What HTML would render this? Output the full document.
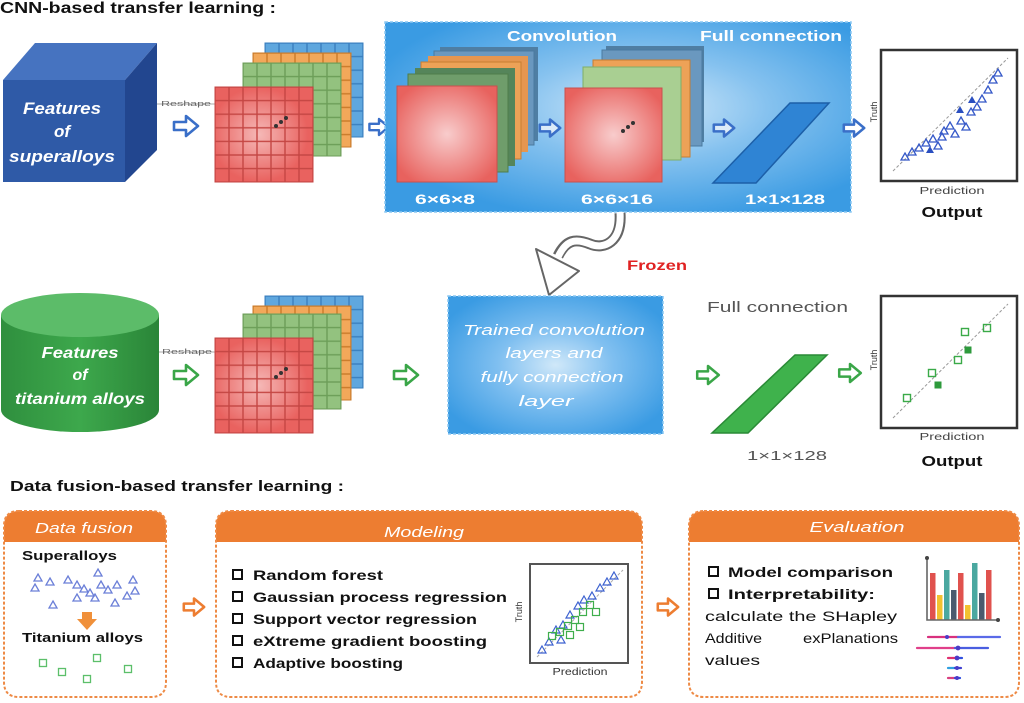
<!DOCTYPE html>
<html><head><meta charset="utf-8">
<style>
html,body{margin:0;padding:0;background:#fff;}
svg{display:block;}
text{font-family:"Liberation Sans",Arial,sans-serif;}
</style></head>
<body>
<svg width="1024" height="703" viewBox="0 0 1024 703" xmlns="http://www.w3.org/2000/svg">
<defs>
  <radialGradient id="boxg" cx="0.55" cy="0.45" r="0.6">
    <stop offset="0" stop-color="#d6ebfa"/>
    <stop offset="0.45" stop-color="#86c2ef"/>
    <stop offset="1" stop-color="#3a9be3"/>
  </radialGradient>
  <radialGradient id="boxg2" cx="0.5" cy="0.5" r="0.6">
    <stop offset="0" stop-color="#d0e8f9"/>
    <stop offset="0.45" stop-color="#7fbff0"/>
    <stop offset="1" stop-color="#3a9be3"/>
  </radialGradient>
  <radialGradient id="redg" cx="0.5" cy="0.5" r="0.6">
    <stop offset="0" stop-color="#f8cccc"/>
    <stop offset="1" stop-color="#e8625e"/>
  </radialGradient>
  <radialGradient id="glow" cx="0.45" cy="0.5" r="0.5">
    <stop offset="0" stop-color="#fff" stop-opacity="0.55"/>
    <stop offset="1" stop-color="#fff" stop-opacity="0"/>
  </radialGradient>
  <linearGradient id="cylg" x1="0" x2="1" y1="0" y2="0">
    <stop offset="0" stop-color="#2f8f3e"/>
    <stop offset="0.5" stop-color="#3da84c"/>
    <stop offset="1" stop-color="#2a8538"/>
  </linearGradient>
  <pattern id="pr" width="14" height="13.6" patternUnits="userSpaceOnUse"><rect width="14" height="13.6" fill="none" stroke="#c44643" stroke-width="1.4"/></pattern>
  <pattern id="pg" width="14" height="13.6" patternUnits="userSpaceOnUse"><rect width="14" height="13.6" fill="none" stroke="#6c9e58" stroke-width="1.4"/></pattern>
  <pattern id="po" width="14" height="13.6" patternUnits="userSpaceOnUse"><rect width="14" height="13.6" fill="none" stroke="#c97a2a" stroke-width="1.4"/></pattern>
  <pattern id="pb" width="14" height="13.6" patternUnits="userSpaceOnUse"><rect width="14" height="13.6" fill="none" stroke="#3a7fbf" stroke-width="1.4"/></pattern>
  <path id="ha" d="M-12,-4 H0 V-10 L12,0 L0,10 V4 H-12 Z" stroke-linejoin="round"/>
  <path id="tri" d="M0,-4 L4,3 L-4,3 Z"/>
  <rect id="sq" x="-3.5" y="-3.5" width="7" height="7"/>
</defs>

<!-- ===== Titles ===== -->
<text x="0" y="13" font-size="16" font-weight="bold" fill="#111" textLength="276" lengthAdjust="spacingAndGlyphs">CNN-based transfer learning :</text>
<text x="10" y="491" font-size="15" font-weight="bold" fill="#111" textLength="334" lengthAdjust="spacingAndGlyphs">Data fusion-based transfer learning :</text>

<!-- ===== Row 1: cube ===== -->
<polygon points="3,80 35,43 157,43 125,80" fill="#4673c0"/>
<polygon points="125,80 157,43 157,150 125,182" fill="#22468f"/>
<rect x="3" y="80" width="122" height="102" fill="#2f5aa7"/>
<g font-style="italic" font-weight="bold" fill="#fff" font-size="17" text-anchor="middle">
  <text x="62" y="114" textLength="78" lengthAdjust="spacingAndGlyphs">Features</text>
  <text x="62" y="137">of</text>
  <text x="62" y="162" textLength="106" lengthAdjust="spacingAndGlyphs">superalloys</text>
</g>
<line x1="157" y1="104" x2="215" y2="104" stroke="#aaa" stroke-width="1"/>
<text x="161" y="106" font-size="7" fill="#666" textLength="50" lengthAdjust="spacingAndGlyphs">Reshape</text>
<use href="#ha" transform="translate(186,126)" fill="#fff" stroke="#3a6fc8" stroke-width="2.6"/>

<!-- grid stack 1 -->
<g transform="translate(265,43)"><rect width="98" height="94" fill="#5fa7de"/><rect width="98" height="94" fill="url(#pb)" stroke="#3a7fbf"/></g>
<g transform="translate(253,53)"><rect width="98" height="94" fill="#f2a85a"/><rect width="98" height="94" fill="url(#po)" stroke="#c97a2a"/></g>
<g transform="translate(243,63)"><rect width="98" height="93" fill="#93c27f"/><rect width="98" height="93" fill="url(#pg)" stroke="#6c9e58"/></g>
<g transform="translate(215,87)"><rect width="98" height="95" fill="#e9625f"/><rect width="98" height="95" fill="url(#glow)"/><rect width="98" height="95" fill="url(#pr)" stroke="#c44643"/></g>
<circle cx="276" cy="126" r="2" fill="#333"/><circle cx="281" cy="122" r="2" fill="#333"/><circle cx="286" cy="118" r="2" fill="#333"/>

<use href="#ha" transform="translate(379,127) scale(0.8)" fill="#fff" stroke="#3a6fc8" stroke-width="3"/>

<!-- big blue box -->
<rect x="385" y="22" width="466" height="190" fill="url(#boxg)" stroke="#8cc8f2" stroke-width="1.5" stroke-dasharray="3,2"/>
<text x="507" y="41" font-size="15" font-weight="bold" fill="#fff" textLength="110" lengthAdjust="spacingAndGlyphs">Convolution</text>
<text x="700" y="41" font-size="15" font-weight="bold" fill="#fff" textLength="142" lengthAdjust="spacingAndGlyphs">Full connection</text>

<!-- conv stack 1 -->
<rect x="440" y="47" width="98" height="94" fill="#4f7ea3"/>
<rect x="434" y="51" width="100" height="94" fill="#6a98bf" stroke="#4a7aa0"/>
<rect x="428" y="56" width="100" height="96" fill="#e59650"/>
<rect x="421" y="62" width="100" height="97" fill="#eda257" stroke="#c67d32"/>
<rect x="415" y="68" width="100" height="98" fill="#55855a"/>
<rect x="408" y="74" width="100" height="98" fill="#6f9d6b" stroke="#4f7d4b"/>
<rect x="397" y="86" width="100" height="96" fill="url(#redg)" stroke="#c9504d"/>
<!-- conv stack 2 -->
<rect x="606" y="46" width="98" height="96" fill="#4f7ea3"/>
<rect x="602" y="50" width="100" height="96" fill="#6a98bf" stroke="#4a7aa0"/>
<rect x="593" y="60" width="97" height="97" fill="#eda257" stroke="#c67d32"/>
<rect x="583" y="67" width="98" height="93" fill="#a9cf92" stroke="#7fae68"/>
<rect x="565" y="88" width="97" height="94" fill="url(#redg)" stroke="#c9504d"/>
<circle cx="623" cy="131" r="2" fill="#333"/><circle cx="628" cy="127" r="2" fill="#333"/><circle cx="633" cy="123" r="2" fill="#333"/>

<use href="#ha" transform="translate(550,128) scale(0.85)" fill="#dcebf8" stroke="#3a6fc8" stroke-width="3"/>
<use href="#ha" transform="translate(724,128) scale(0.85)" fill="#dcebf8" stroke="#3a6fc8" stroke-width="3"/>

<!-- blue parallelogram -->
<polygon points="713,183 756,183 829,103 790,103" fill="#2f84d4" stroke="#1c5fa8" stroke-width="1.5"/>

<g font-size="14" font-weight="bold" fill="#fff">
  <text x="415" y="204" textLength="60" lengthAdjust="spacingAndGlyphs">6×6×8</text>
  <text x="581" y="204" textLength="72" lengthAdjust="spacingAndGlyphs">6×6×16</text>
  <text x="745" y="204" textLength="80" lengthAdjust="spacingAndGlyphs">1×1×128</text>
</g>

<use href="#ha" transform="translate(854,128) scale(0.85)" fill="#fff" stroke="#3a6fc8" stroke-width="3"/>

<!-- output plot 1 -->
<rect x="881" y="50" width="136" height="131" fill="#fff" stroke="#333" stroke-width="2.5"/>
<line x1="893" y1="171" x2="1008" y2="58" stroke="#999" stroke-width="1" stroke-dasharray="3,2"/>
<g fill="none" stroke="#3558c8" stroke-width="1.3">
  <use href="#tri" x="905" y="157"/><use href="#tri" x="912" y="152"/><use href="#tri" x="919" y="148"/>
  <use href="#tri" x="926" y="143"/><use href="#tri" x="933" y="139"/><use href="#tri" x="938" y="146"/>
  <use href="#tri" x="944" y="131"/><use href="#tri" x="950" y="126"/><use href="#tri" x="955" y="134"/>
  <use href="#tri" x="961" y="121"/><use href="#tri" x="966" y="127"/><use href="#tri" x="971" y="112"/>
  <use href="#tri" x="977" y="107"/><use href="#tri" x="982" y="99"/><use href="#tri" x="988" y="90"/>
  <use href="#tri" x="993" y="80"/><use href="#tri" x="998" y="73"/><use href="#tri" x="942" y="137"/>
</g>
<g fill="#2a4fc0"><use href="#tri" x="972" y="100"/><use href="#tri" x="960" y="110"/><use href="#tri" x="930" y="150"/></g>
<text transform="translate(877,112) rotate(-90)" font-size="9" fill="#333" text-anchor="middle">Truth</text>
<text x="952" y="194" font-size="10" fill="#444" text-anchor="middle" textLength="65" lengthAdjust="spacingAndGlyphs">Prediction</text>
<text x="952" y="217" font-size="15" font-weight="bold" fill="#111" text-anchor="middle" textLength="61" lengthAdjust="spacingAndGlyphs">Output</text>

<!-- Frozen arrow -->
<path d="M620,213 C622,242 604,250 590,244 C575,238 566,240 558,256" fill="none" stroke="#666" stroke-width="11" stroke-linecap="butt"/>
<path d="M620,212 C622,242 604,250 590,244 C575,238 566,240 558,257" fill="none" stroke="#fff" stroke-width="7"/>
<polygon points="536,249 579,271 549,295" fill="#fff" stroke="#666" stroke-width="2" stroke-linejoin="round"/>
<text x="627" y="270" font-size="14" font-weight="bold" fill="#e02222" textLength="60" lengthAdjust="spacingAndGlyphs">Frozen</text>

<!-- ===== Row 2 ===== -->
<path d="M1,315 V410 A79,22 0 0 0 159,410 V315 Z" fill="url(#cylg)"/>
<ellipse cx="80" cy="315" rx="79" ry="22" fill="#5cbc69"/>
<g font-style="italic" font-weight="bold" fill="#fff" font-size="16" text-anchor="middle">
  <text x="80" y="358" textLength="77" lengthAdjust="spacingAndGlyphs">Features</text>
  <text x="80" y="380">of</text>
  <text x="80" y="404" textLength="130" lengthAdjust="spacingAndGlyphs">titanium alloys</text>
</g>
<line x1="159" y1="352" x2="215" y2="352" stroke="#aaa" stroke-width="1"/>
<text x="162" y="354" font-size="7" fill="#666" textLength="50" lengthAdjust="spacingAndGlyphs">Reshape</text>
<use href="#ha" transform="translate(186,375)" fill="#fff" stroke="#3aa648" stroke-width="2.6"/>

<!-- grid stack 2 -->
<g transform="translate(265,296)"><rect width="98" height="92" fill="#5fa7de"/><rect width="98" height="92" fill="url(#pb)" stroke="#3a7fbf"/></g>
<g transform="translate(253,306)"><rect width="98" height="94" fill="#f2a85a"/><rect width="98" height="94" fill="url(#po)" stroke="#c97a2a"/></g>
<g transform="translate(243,314)"><rect width="98" height="95" fill="#93c27f"/><rect width="98" height="95" fill="url(#pg)" stroke="#6c9e58"/></g>
<g transform="translate(215,338)"><rect width="98" height="95" fill="#e9625f"/><rect width="98" height="95" fill="url(#glow)"/><rect width="98" height="95" fill="url(#pr)" stroke="#c44643"/></g>
<circle cx="276" cy="377" r="2" fill="#333"/><circle cx="281" cy="373" r="2" fill="#333"/><circle cx="286" cy="369" r="2" fill="#333"/>

<use href="#ha" transform="translate(406,375)" fill="#fff" stroke="#3aa648" stroke-width="2.6"/>

<!-- trained box -->
<rect x="448" y="296" width="215" height="138" fill="url(#boxg2)" stroke="#8cc8f2" stroke-width="1.5" stroke-dasharray="3,2"/>
<g font-style="italic" fill="#fff" font-size="15" text-anchor="middle">
  <text x="554" y="335" textLength="182" lengthAdjust="spacingAndGlyphs">Trained convolution</text>
  <text x="554" y="358" textLength="97" lengthAdjust="spacingAndGlyphs">layers and</text>
  <text x="552" y="382" textLength="143" lengthAdjust="spacingAndGlyphs">fully connection</text>
  <text x="546" y="406" textLength="55" lengthAdjust="spacingAndGlyphs">layer</text>
</g>

<text x="707" y="312" font-size="15" fill="#555" textLength="141" lengthAdjust="spacingAndGlyphs">Full connection</text>
<use href="#ha" transform="translate(708,375) scale(0.9)" fill="#fff" stroke="#3aa648" stroke-width="2.8"/>
<polygon points="712,433 748,433 827,355 795,355" fill="#3fb24c" stroke="#2a8a36" stroke-width="1.5"/>
<text x="747" y="460" font-size="13" fill="#555" textLength="80" lengthAdjust="spacingAndGlyphs">1×1×128</text>
<use href="#ha" transform="translate(850,373) scale(0.9)" fill="#fff" stroke="#3aa648" stroke-width="2.8"/>

<!-- output plot 2 -->
<rect x="881" y="296" width="136" height="132" fill="#fff" stroke="#333" stroke-width="2.5"/>
<line x1="893" y1="418" x2="1008" y2="304" stroke="#999" stroke-width="1" stroke-dasharray="3,2"/>
<g fill="none" stroke="#3aaa48" stroke-width="1.4">
  <use href="#sq" x="965" y="332"/><use href="#sq" x="987" y="328"/><use href="#sq" x="958" y="360"/>
  <use href="#sq" x="932" y="373"/><use href="#sq" x="907" y="398"/>
</g>
<g fill="#2e9a3c"><use href="#sq" x="968" y="350"/><use href="#sq" x="938" y="385"/></g>
<text transform="translate(877,360) rotate(-90)" font-size="9" fill="#333" text-anchor="middle">Truth</text>
<text x="952" y="440" font-size="10" fill="#444" text-anchor="middle" textLength="65" lengthAdjust="spacingAndGlyphs">Prediction</text>
<text x="952" y="466" font-size="15" font-weight="bold" fill="#111" text-anchor="middle" textLength="61" lengthAdjust="spacingAndGlyphs">Output</text>

<!-- ===== Bottom section ===== -->
<!-- Box 1 -->
<path d="M4,526 Q4,511 19,511 H151 Q166,511 166,526 V542 H4 Z" fill="#ed7d31"/>
<path d="M19,511 H151 Q166,511 166,526 V682 Q166,697 151,697 H19 Q4,697 4,682 V526 Q4,511 19,511 Z" fill="none" stroke="#ee8a45" stroke-width="2" stroke-dasharray="3,2"/>
<text x="84" y="533" font-size="15" font-style="italic" fill="#fff" text-anchor="middle" textLength="98" lengthAdjust="spacingAndGlyphs">Data fusion</text>
<text x="22" y="560" font-size="13" font-weight="bold" fill="#111" textLength="95" lengthAdjust="spacingAndGlyphs">Superalloys</text>
<g fill="none" stroke="#6b7fd8" stroke-width="1.3">
  <use href="#tri" x="38" y="578"/><use href="#tri" x="50" y="582"/><use href="#tri" x="35" y="588"/>
  <use href="#tri" x="53" y="605"/><use href="#tri" x="68" y="580"/><use href="#tri" x="77" y="585"/>
  <use href="#tri" x="84" y="589"/><use href="#tri" x="77" y="598"/><use href="#tri" x="90" y="593"/>
  <use href="#tri" x="98" y="573"/><use href="#tri" x="101" y="585"/><use href="#tri" x="108" y="590"/>
  <use href="#tri" x="95" y="598"/><use href="#tri" x="117" y="585"/><use href="#tri" x="115" y="603"/>
  <use href="#tri" x="133" y="580"/><use href="#tri" x="135" y="591"/><use href="#tri" x="127" y="596"/>
</g>
<polygon points="82,612 92,612 92,619 97,619 87,630 77,619 82,619" fill="#f0903a"/>
<text x="22" y="642" font-size="13" font-weight="bold" fill="#111" textLength="121" lengthAdjust="spacingAndGlyphs">Titanium alloys</text>
<g fill="none" stroke="#5cbf6a" stroke-width="1.3">
  <use href="#sq" x="43" y="663"/><use href="#sq" x="62" y="672"/><use href="#sq" x="97" y="658"/>
  <use href="#sq" x="87" y="679"/><use href="#sq" x="128" y="669"/>
</g>

<use href="#ha" transform="translate(194,607) scale(0.85)" fill="#fff" stroke="#ed7d31" stroke-width="3"/>

<!-- Box 2 -->
<path d="M216,526 Q216,511 231,511 H627 Q642,511 642,526 V542 H216 Z" fill="#ed7d31"/>
<path d="M231,511 H627 Q642,511 642,526 V682 Q642,697 627,697 H231 Q216,697 216,682 V526 Q216,511 231,511 Z" fill="none" stroke="#ee8a45" stroke-width="2" stroke-dasharray="3,2"/>
<text x="424" y="537" font-size="15" font-style="italic" fill="#fff" text-anchor="middle" textLength="80" lengthAdjust="spacingAndGlyphs">Modeling</text>
<g fill="none" stroke="#111" stroke-width="2">
  <rect x="233" y="570" width="9" height="9"/><rect x="233" y="592" width="9" height="9"/>
  <rect x="233" y="614" width="9" height="9"/><rect x="233" y="636" width="9" height="9"/>
  <rect x="233" y="658" width="9" height="9"/>
</g>
<g font-size="14" font-weight="bold" fill="#111">
  <text x="253" y="580" textLength="130" lengthAdjust="spacingAndGlyphs">Random forest</text>
  <text x="253" y="602" textLength="254" lengthAdjust="spacingAndGlyphs">Gaussian process regression</text>
  <text x="253" y="624" textLength="224" lengthAdjust="spacingAndGlyphs">Support vector regression</text>
  <text x="253" y="646" textLength="234" lengthAdjust="spacingAndGlyphs">eXtreme gradient boosting</text>
  <text x="253" y="668" textLength="150" lengthAdjust="spacingAndGlyphs">Adaptive boosting</text>
</g>
<rect x="530" y="564" width="98" height="99" fill="#fff" stroke="#555" stroke-width="2"/>
<line x1="537" y1="657" x2="623" y2="570" stroke="#aaa" stroke-width="1" stroke-dasharray="3,2"/>
<g fill="none" stroke="#3d62d0" stroke-width="1.2">
  <use href="#tri" x="542" y="650"/><use href="#tri" x="549" y="642"/><use href="#tri" x="556" y="630"/>
  <use href="#tri" x="563" y="625"/><use href="#tri" x="570" y="615"/><use href="#tri" x="578" y="606"/>
  <use href="#tri" x="584" y="600"/><use href="#tri" x="592" y="596"/><use href="#tri" x="600" y="588"/>
  <use href="#tri" x="607" y="582"/><use href="#tri" x="614" y="576"/><use href="#tri" x="561" y="640"/>
</g>
<g fill="none" stroke="#3fae4c" stroke-width="1.2">
  <use href="#sq" x="552" y="636"/><use href="#sq" x="560" y="632"/><use href="#sq" x="568" y="626"/>
  <use href="#sq" x="575" y="620"/><use href="#sq" x="583" y="612"/><use href="#sq" x="590" y="605"/>
  <use href="#sq" x="596" y="612"/><use href="#sq" x="580" y="627"/><use href="#sq" x="570" y="635"/>
</g>
<text transform="translate(522,612) rotate(-90)" font-size="9" fill="#333" text-anchor="middle">Truth</text>
<text x="580" y="675" font-size="10" fill="#333" text-anchor="middle" textLength="55" lengthAdjust="spacingAndGlyphs">Prediction</text>

<use href="#ha" transform="translate(668,607) scale(0.85)" fill="#fff" stroke="#ed7d31" stroke-width="3"/>

<!-- Box 3 -->
<path d="M689,526 Q689,511 704,511 H1004 Q1019,511 1019,526 V542 H689 Z" fill="#ed7d31"/>
<path d="M704,511 H1004 Q1019,511 1019,526 V682 Q1019,697 1004,697 H704 Q689,697 689,682 V526 Q689,511 704,511 Z" fill="none" stroke="#ee8a45" stroke-width="2" stroke-dasharray="3,2"/>
<text x="857" y="532" font-size="15" font-style="italic" fill="#fff" text-anchor="middle" textLength="95" lengthAdjust="spacingAndGlyphs">Evaluation</text>
<g fill="none" stroke="#111" stroke-width="2">
  <rect x="709" y="567" width="9" height="9"/><rect x="709" y="589" width="9" height="9"/>
</g>
<g font-size="14" fill="#111">
  <text x="728" y="577" font-weight="bold" textLength="165" lengthAdjust="spacingAndGlyphs">Model comparison</text>
  <text x="728" y="599" font-weight="bold" textLength="147" lengthAdjust="spacingAndGlyphs">Interpretability:</text>
  <text x="705" y="621" textLength="192" lengthAdjust="spacingAndGlyphs">calculate the SHapley</text>
  <text x="705" y="643" textLength="57" lengthAdjust="spacingAndGlyphs">Additive</text>
  <text x="803" y="643" textLength="95" lengthAdjust="spacingAndGlyphs">exPlanations</text>
  <text x="705" y="665" textLength="55" lengthAdjust="spacingAndGlyphs">values</text>
</g>
<!-- bar chart -->
<g>
  <rect x="930" y="573" width="5.5" height="47" fill="#e0524e"/>
  <rect x="937" y="595" width="5.5" height="25" fill="#f2c230"/>
  <rect x="944" y="570" width="5.5" height="50" fill="#4aa8a0"/>
  <rect x="951" y="590" width="5.5" height="30" fill="#4b5a6e"/>
  <rect x="958" y="573" width="5.5" height="47" fill="#e0524e"/>
  <rect x="965" y="605" width="5.5" height="15" fill="#f2c230"/>
  <rect x="972" y="563" width="5.5" height="57" fill="#4aa8a0"/>
  <rect x="979" y="593" width="5.5" height="27" fill="#4b5a6e"/>
  <rect x="986" y="570" width="5.5" height="50" fill="#e0524e"/>
  <path d="M927,558 V620 H998" fill="none" stroke="#666" stroke-width="1.6"/>
  <circle cx="927" cy="558" r="2" fill="#444"/><circle cx="998" cy="620" r="2" fill="#444"/>
</g>
<!-- shap -->
<g stroke-width="2.2" stroke-linecap="round">
  <line x1="928" y1="637" x2="958" y2="637" stroke="#d8307e"/><line x1="958" y1="637" x2="1000" y2="637" stroke="#5a6ae8"/>
  <line x1="917" y1="648" x2="955" y2="648" stroke="#e0408a"/><line x1="955" y1="648" x2="988" y2="648" stroke="#4a5ee0"/>
  <line x1="948" y1="658" x2="956" y2="658" stroke="#e03070"/><line x1="956" y1="658" x2="962" y2="658" stroke="#3050e0"/>
  <line x1="948" y1="668" x2="955" y2="668" stroke="#30a0e0"/><line x1="955" y1="668" x2="961" y2="668" stroke="#4040d0"/>
  <line x1="948" y1="678" x2="955" y2="678" stroke="#d84080"/><line x1="955" y1="678" x2="960" y2="678" stroke="#3050e0"/>
</g>
<g fill="#4a3cc8"><circle cx="947" cy="637" r="2"/><circle cx="958" cy="648" r="2.4"/><circle cx="957" cy="658" r="2.4"/><circle cx="957" cy="668" r="2"/><circle cx="957" cy="678" r="2"/></g>
</svg>
</body></html>
